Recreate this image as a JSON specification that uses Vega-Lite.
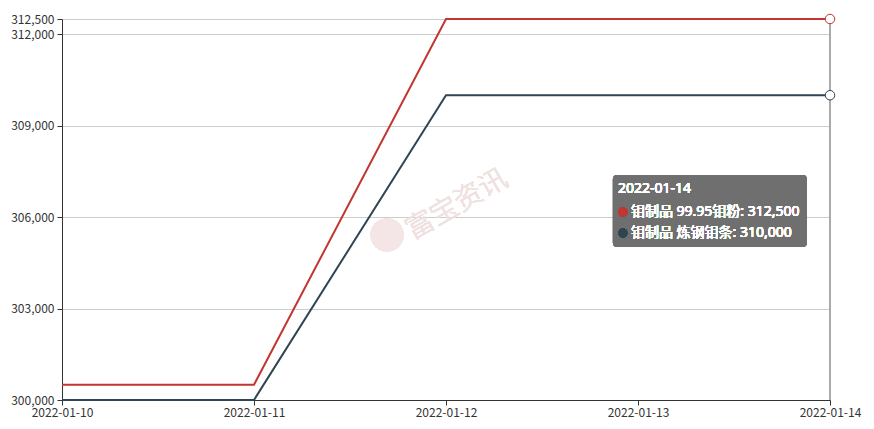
{
  "$schema": "https://vega.github.io/schema/vega-lite/v6.json",
  "width": 768,
  "height": 381,
  "autosize": {"type": "none"},
  "padding": {"left": 62, "top": 19, "right": 44, "bottom": 29},
  "background": "#ffffff",
  "config": {
    "view": {"stroke": null},
    "font": "Noto Sans CJK SC",
    "axis": {"labelFont": "Noto Sans CJK SC", "labelFontSize": 12, "labelColor": "#333333", "labelFontWeight": "normal"},
    "text": {"fontWeight": "normal"}
  },
  "data": {
    "values": [
      {"date": "2022-01-10", "series": "钼制品 99.95钼粉", "price": 300500},
      {"date": "2022-01-11", "series": "钼制品 99.95钼粉", "price": 300500},
      {"date": "2022-01-12", "series": "钼制品 99.95钼粉", "price": 312500},
      {"date": "2022-01-13", "series": "钼制品 99.95钼粉", "price": 312500},
      {"date": "2022-01-14", "series": "钼制品 99.95钼粉", "price": 312500},
      {"date": "2022-01-10", "series": "钼制品 炼钢钼条", "price": 300000},
      {"date": "2022-01-11", "series": "钼制品 炼钢钼条", "price": 300000},
      {"date": "2022-01-12", "series": "钼制品 炼钢钼条", "price": 310000},
      {"date": "2022-01-13", "series": "钼制品 炼钢钼条", "price": 310000},
      {"date": "2022-01-14", "series": "钼制品 炼钢钼条", "price": 310000}
    ]
  },
  "encoding": {
    "x": {
      "field": "date", "type": "temporal",
      "scale": {"type": "utc", "domain": [{"year": 2022, "month": 1, "date": 10, "utc": true}, {"year": 2022, "month": 1, "date": 14, "utc": true}]},
      "axis": {
        "title": null, "labelExpr": "utcFormat(datum.value, '%Y-%m-%d')",
        "values": [{"year": 2022, "month": 1, "date": 10, "utc": true}, {"year": 2022, "month": 1, "date": 11, "utc": true}, {"year": 2022, "month": 1, "date": 12, "utc": true}, {"year": 2022, "month": 1, "date": 13, "utc": true}, {"year": 2022, "month": 1, "date": 14, "utc": true}],
        "grid": false, "domainColor": "#333333", "tickColor": "#333333", "tickSize": 5,
        "labelPadding": 2, "labelFlush": false, "labelOverlap": false
      }
    },
    "y": {
      "field": "price", "type": "quantitative",
      "scale": {"domain": [300000, 312500], "nice": false, "zero": false},
      "axis": {
        "title": null, "values": [300000, 303000, 306000, 309000, 312000, 312500],
        "format": ",d", "grid": true, "gridColor": "#cccccc", "domainColor": "#333333",
        "tickColor": "#333333", "tickSize": 5, "labelPadding": 3, "labelOverlap": false
      }
    },
    "color": {
      "field": "series", "type": "nominal",
      "scale": {"domain": ["钼制品 99.95钼粉", "钼制品 炼钢钼条"], "range": ["#c23531", "#2f4554"]},
      "legend": null
    }
  },
  "layer": [
    {
      "mark": {"type": "text", "text": "富宝资讯", "fontSize": 28, "fontWeight": 300, "angle": 330, "color": "#f1e2e2", "align": "center", "baseline": "middle"},
      "encoding": {
        "x": {"datum": {"year": 2022, "month": 1, "date": 12, "hours": 1, "minutes": 22, "utc": true}, "type": "temporal"},
        "y": {"datum": 306398, "type": "quantitative"},
        "color": null
      }
    },
    {
      "mark": {"type": "point", "shape": "circle", "filled": true, "size": 1100, "color": "#f4e6e6", "opacity": 1},
      "encoding": {
        "x": {"datum": {"year": 2022, "month": 1, "date": 11, "hours": 16, "minutes": 38, "utc": true}, "type": "temporal"},
        "y": {"datum": 305413, "type": "quantitative"},
        "color": null
      }
    },
    {
      "mark": {"type": "rule", "color": "#aaaaaa", "strokeWidth": 1},
      "encoding": {
        "x": {"datum": {"year": 2022, "month": 1, "date": 14, "utc": true}, "type": "temporal"},
        "y": null,
        "color": null
      }
    },
    {
      "mark": {"type": "line", "strokeWidth": 2, "interpolate": "linear"}
    },
    {
      "transform": [{"filter": "utcdate(datum.date) === 14"}],
      "mark": {"type": "point", "shape": "circle", "filled": false, "fill": "#ffffff", "fillOpacity": 1, "strokeWidth": 1, "size": 90, "opacity": 1}
    },
    {
      "mark": {"type": "rect", "color": "#6f6f6f", "cornerRadius": 4},
      "encoding": {
        "x": {"datum": {"year": 2022, "month": 1, "date": 12, "hours": 20, "minutes": 52, "utc": true}, "type": "temporal"},
        "x2": {"datum": {"year": 2022, "month": 1, "date": 13, "hours": 21, "minutes": 7, "utc": true}},
        "y": {"datum": 307382, "type": "quantitative"},
        "y2": {"datum": 305020},
        "color": null
      }
    },
    {
      "mark": {"type": "text", "text": "2022-01-14", "font": "Noto Sans, Noto Sans CJK SC", "fontSize": 14, "fontWeight": "normal", "color": "#ffffff", "align": "left", "baseline": "middle"},
      "encoding": {
        "x": {"datum": {"year": 2022, "month": 1, "date": 12, "hours": 21, "minutes": 30, "utc": true}, "type": "temporal"},
        "y": {"datum": 306923, "type": "quantitative"},
        "color": null
      }
    },
    {
      "mark": {"type": "point", "shape": "circle", "filled": true, "size": 80, "opacity": 1, "color": "#c23531"},
      "encoding": {
        "x": {"datum": {"year": 2022, "month": 1, "date": 12, "hours": 22, "minutes": 7, "utc": true}, "type": "temporal"},
        "y": {"datum": 306168, "type": "quantitative"},
        "color": null
      }
    },
    {
      "mark": {"type": "point", "shape": "circle", "filled": true, "size": 80, "opacity": 1, "color": "#2f4554"},
      "encoding": {
        "x": {"datum": {"year": 2022, "month": 1, "date": 12, "hours": 22, "minutes": 7, "utc": true}, "type": "temporal"},
        "y": {"datum": 305479, "type": "quantitative"},
        "color": null
      }
    },
    {
      "mark": {"type": "text", "text": "钼制品 99.95钼粉: 312,500", "font": "Noto Sans, Noto Sans CJK SC", "fontSize": 14, "fontWeight": "normal", "color": "#ffffff", "align": "left", "baseline": "middle"},
      "encoding": {
        "x": {"datum": {"year": 2022, "month": 1, "date": 12, "hours": 23, "minutes": 7, "utc": true}, "type": "temporal"},
        "y": {"datum": 306168, "type": "quantitative"},
        "color": null
      }
    },
    {
      "mark": {"type": "text", "text": "钼制品 炼钢钼条: 310,000", "font": "Noto Sans, Noto Sans CJK SC", "fontSize": 14, "fontWeight": "normal", "color": "#ffffff", "align": "left", "baseline": "middle"},
      "encoding": {
        "x": {"datum": {"year": 2022, "month": 1, "date": 12, "hours": 23, "minutes": 7, "utc": true}, "type": "temporal"},
        "y": {"datum": 305479, "type": "quantitative"},
        "color": null
      }
    }
  ]
}
